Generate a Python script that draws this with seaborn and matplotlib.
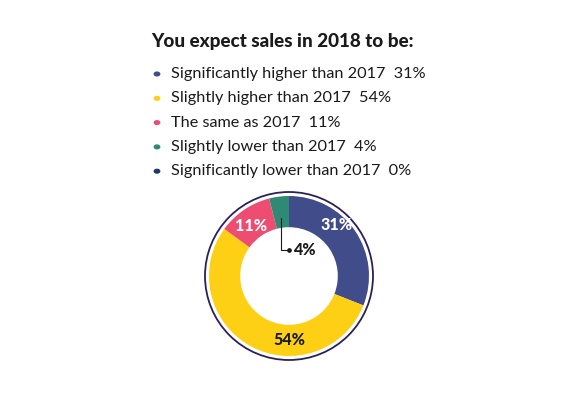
import matplotlib
matplotlib.use("Agg")
import matplotlib.pyplot as plt
import seaborn as sns

sns.set_theme(style="white")
plt.rcParams['font.family'] = ['Lato', 'DejaVu Sans']

title = "You expect sales in 2018 to be:"
categories = ["Significantly higher than 2017", "Slightly higher than 2017",
              "The same as 2017", "Slightly lower than 2017", "Significantly lower than 2017"]
values = [31, 54, 11, 4, 0]
colors = ["#414C8A", "#FDD015", "#EE4D72", "#2E8A74", "#1E3A63"]

W, H = 576, 395
fig = plt.figure(figsize=(W / 100, H / 100), dpi=100)

def fx(px):
    return px / W

def fy(py):
    return 1 - py / H

# Legend / title
fig.text(fx(151), fy(42), title, fontsize=13.6, fontweight="black", color="#1a1a1a",
         va="center", ha="left")
for i, (cat, val, col) in enumerate(zip(categories, values, colors)):
    y = 74 + i * 24.3
    fig.patches.append(plt.Circle((fx(157), fy(y)), 2.7 / W, transform=fig.transFigure,
                                  color=col, figure=fig))
    fig.text(fx(171), fy(y), f"{cat}  {val}%", fontsize=11.7, color="#1a1a1a",
             va="center", ha="left")

# Donut
cx, cy, r = 289, 276, 88
ax = fig.add_axes([fx(cx - r), fy(cy + r), 2 * r / W, 2 * r / H])

nz = [(v, c) for v, c in zip(values, colors) if v > 0]
wedges, _ = ax.pie([v for v, _ in nz], colors=[c for _, c in nz], startangle=90,
                   counterclock=False, radius=1.0,
                   wedgeprops=dict(width=0.39, edgecolor="none"))
ax.set_xlim(-1.1, 1.1)
ax.set_ylim(-1.1, 1.1)
ax.set_aspect("equal")
ax.axis("off")
ring = plt.Circle((0, 0), 1.05, fill=False, edgecolor="#2C1F5C", linewidth=1.3)
ax.add_patch(ring)

# labels
lab = dict(fontsize=11.5, fontweight="black", ha="center", va="center")
ax.text(0.59, 0.64, "31%", color="white", **lab)
ax.text(0.01, -0.80, "54%", color="#1a1a1a", **lab)
ax.text(-0.47, 0.63, "11%", color="white", **lab)
# 4% leader
ax.plot([-0.10, -0.10, 0.0], [0.72, 0.32, 0.32], color="#1a1a1a", lw=0.8)
ax.plot([0.0], [0.32], "o", color="#1a1a1a", ms=2.4)
ax.text(0.05, 0.32, "4%", color="#1a1a1a", **{**lab, "ha": "left"})

fig.savefig("out.png", dpi=100, facecolor="white")
